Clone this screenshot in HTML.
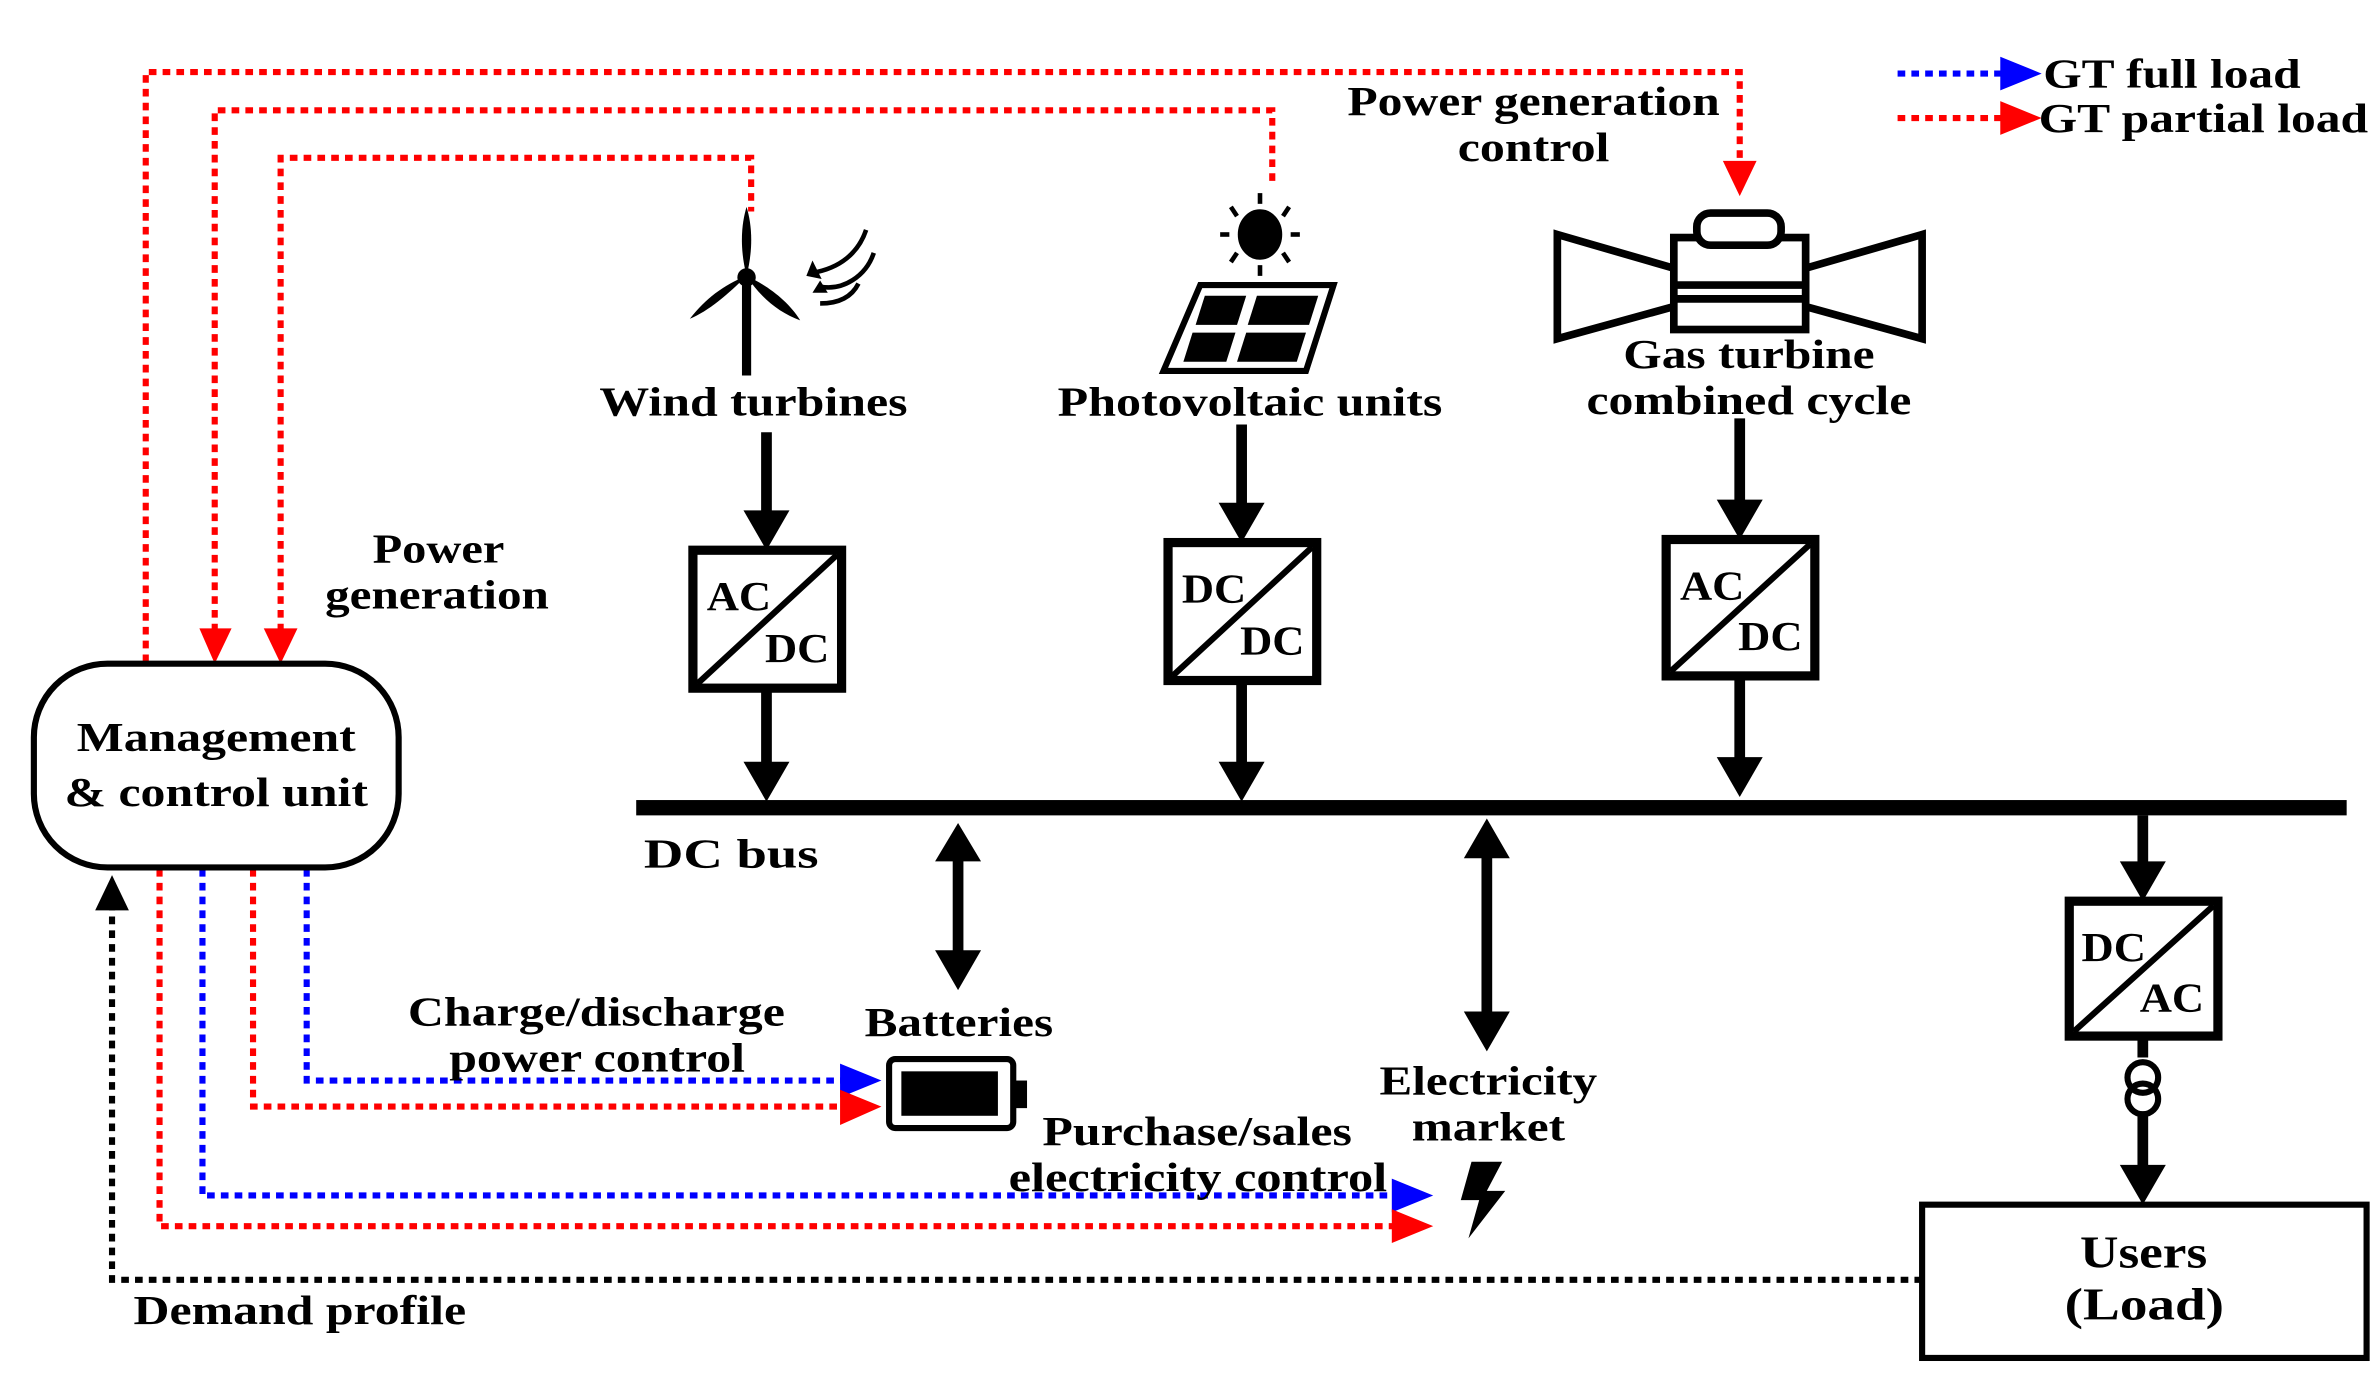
<!DOCTYPE html>
<html><head><meta charset="utf-8"><style>
html,body{margin:0;padding:0;background:#fff}
svg{display:block}
text{font-family:"Liberation Serif","DejaVu Serif",serif;font-weight:bold;font-size:27px;fill:#000}
</style></head><body>
<svg width="2379" height="1384" viewBox="0 0 1552 903" xmlns="http://www.w3.org/2000/svg" font-family="Liberation Serif, DejaVu Serif, serif">
<g fill="none" stroke-dasharray="5,4" stroke-width="4">
<path d="M95,432 V47 H1135 V108" stroke="#f00"/>
<path d="M140,412 V72 H830 V122" stroke="#f00"/>
<path d="M183,412 V103 H490 V138" stroke="#f00"/>
<path d="M200,567 V705 H550" stroke="#00f"/>
<path d="M165,567 V722 H550" stroke="#f00"/>
<path d="M132,567 V780 H910" stroke="#00f"/>
<path d="M104,567 V800 H910" stroke="#f00"/>
<path d="M1254,835 H73 V592" stroke="#000"/>
<path d="M1238,48 H1308" stroke="#00f"/>
<path d="M1238,77 H1308" stroke="#f00"/>
</g>
<g>
<path d="M1124,105 L1146,105 L1135,128z" fill="#f00"/>
<path d="M130,410 L151,410 L140,433z" fill="#f00"/>
<path d="M172,410 L194,410 L183,433z" fill="#f00"/>
<path d="M548,694 L575,705 L548,716z" fill="#00f"/>
<path d="M548,711 L575,722 L548,734z" fill="#f00"/>
<path d="M908,769 L935,780 L908,791z" fill="#00f"/>
<path d="M908,789 L935,800 L908,811z" fill="#f00"/>
<path d="M62,594 L84,594 L73,571z" fill="#000"/>
<path d="M1305,37 L1332,48 L1305,59z" fill="#00f"/>
<path d="M1305,66 L1332,77 L1305,88z" fill="#f00"/>
</g>
<rect x="22" y="433" width="238" height="133" rx="48" fill="#fff" stroke="#000" stroke-width="4"/>
<text x="50" y="490" textLength="182" lengthAdjust="spacingAndGlyphs">Management</text>
<text x="42" y="526" textLength="198" lengthAdjust="spacingAndGlyphs">&amp; control unit</text>
<rect x="415" y="522" width="1116" height="10" fill="#000"/>
<text x="420" y="566" textLength="114" lengthAdjust="spacingAndGlyphs">DC bus</text>
<g stroke="#000" stroke-width="7" fill="none">
<path d="M500,282 V335"/><path d="M500,449 V500"/>
<path d="M810,277 V330"/><path d="M810,444 V500"/>
<path d="M1135,273 V328"/><path d="M1135,441 V496"/>
<path d="M625,560 V622"/>
<path d="M970,558 V664"/>
<path d="M1398,532 V565"/>
<path d="M1398,676 V690"/><path d="M1398,727 V762"/>
</g>
<g fill="#000">
<path d="M485,333 L515,333 L500,359z"/><path d="M485,497 L515,497 L500,523z"/>
<path d="M795,328 L825,328 L810,354z"/><path d="M795,497 L825,497 L810,523z"/>
<path d="M1120,326 L1150,326 L1135,352z"/><path d="M1120,494 L1150,494 L1135,520z"/>
<path d="M610,562 L640,562 L625,537z"/><path d="M610,620 L640,620 L625,646z"/>
<path d="M955,560 L985,560 L970,534z"/><path d="M955,660 L985,660 L970,686z"/>
<path d="M1383,562 L1413,562 L1398,588z"/>
<path d="M1383,760 L1413,760 L1398,786z"/>
</g>
<g fill="#fff" stroke="#000" stroke-width="6">
<rect x="452" y="359" width="97" height="90"/>
<rect x="762" y="354" width="97" height="90"/>
<rect x="1087" y="352" width="97" height="89"/>
<rect x="1350" y="588" width="97" height="88"/>
</g>
<g stroke="#000" stroke-width="4">
<line x1="455" y1="446" x2="546" y2="362"/>
<line x1="765" y1="441" x2="856" y2="357"/>
<line x1="1090" y1="438" x2="1181" y2="355"/>
<line x1="1353" y1="673" x2="1444" y2="591"/>
</g>
<g style="font-size:25px">
<text x="461" y="398" textLength="42" lengthAdjust="spacingAndGlyphs">AC</text><text x="499" y="432" textLength="42" lengthAdjust="spacingAndGlyphs">DC</text>
<text x="771" y="393" textLength="42" lengthAdjust="spacingAndGlyphs">DC</text><text x="809" y="427" textLength="42" lengthAdjust="spacingAndGlyphs">DC</text>
<text x="1096" y="391" textLength="42" lengthAdjust="spacingAndGlyphs">AC</text><text x="1134" y="424" textLength="42" lengthAdjust="spacingAndGlyphs">DC</text>
<text x="1358" y="627" textLength="42" lengthAdjust="spacingAndGlyphs">DC</text><text x="1396" y="660" textLength="42" lengthAdjust="spacingAndGlyphs">AC</text>
</g>
<circle cx="1398" cy="703" r="10" fill="none" stroke="#000" stroke-width="4"/>
<circle cx="1398" cy="717" r="10" fill="none" stroke="#000" stroke-width="4"/>
<rect x="1254" y="786" width="290" height="100" fill="#fff" stroke="#000" stroke-width="4"/>
<text x="1357" y="827" style="font-size:30px" textLength="83" lengthAdjust="spacingAndGlyphs">Users</text>
<text x="1347" y="861" style="font-size:30px" textLength="104" lengthAdjust="spacingAndGlyphs">(Load)</text>
<rect x="580" y="691" width="81" height="45" rx="4" fill="#fff" stroke="#000" stroke-width="4"/>
<rect x="588" y="699" width="63" height="29" fill="#000"/>
<rect x="661" y="705" width="9" height="18" fill="#000"/>
<text x="564" y="676" textLength="123" lengthAdjust="spacingAndGlyphs">Batteries</text>
<path d="M960,758 L980,758 L970,777 L982,777 L958,808 L965,783 L953,783z" fill="#000"/>
<g fill="#000">
<rect x="484" y="182" width="6" height="63"/>
<path d="M487,180 C482,160 484,145 487,135 C490,145 492,160 487,180z"/>
<path d="M487,180 C475,192 462,203 450,208 C460,195 472,186 487,180z"/>
<path d="M487,180 C500,186 514,196 522,209 C508,204 496,194 487,180z"/>
<circle cx="487" cy="181" r="6"/>
</g>
<g fill="none" stroke="#000" stroke-width="3">
<path d="M565,150 C560,165 548,175 530,178"/>
<path d="M570,165 C565,180 550,190 535,187"/>
<path d="M560,185 C555,195 545,198 535,198"/>
</g>
<g fill="#000"><path d="M530,170 L526,180 L536,182z"/><path d="M535,183 L530,191 L540,191z"/></g>
<g fill="#000" stroke="#000" stroke-width="3">
<ellipse cx="822" cy="153" rx="13" ry="15"/>
<line x1="822" y1="126" x2="822" y2="133"/><line x1="822" y1="173" x2="822" y2="180"/>
<line x1="796" y1="153" x2="802" y2="153"/><line x1="842" y1="153" x2="848" y2="153"/>
<line x1="803" y1="135" x2="807" y2="141"/><line x1="841" y1="135" x2="837" y2="141"/>
<line x1="803" y1="171" x2="807" y2="165"/><line x1="841" y1="171" x2="837" y2="165"/>
</g>
<path d="M783,186 L870,186 L852,242 L759,242z" fill="#fff" stroke="#000" stroke-width="4"/>
<g fill="#000">
<path d="M786,193 L813,193 L807,212 L780,212z"/><path d="M820,193 L860,193 L854,212 L814,212z"/>
<path d="M778,217 L806,217 L800,236 L772,236z"/><path d="M813,217 L852,217 L846,236 L807,236z"/>
</g>
<g fill="#fff" stroke="#000" stroke-width="5">
<path d="M1016,153 L1092,175 L1092,200 L1016,221z"/>
<path d="M1254,153 L1178,175 L1178,200 L1254,221z"/>
<rect x="1092" y="155" width="86" height="60"/>
<rect x="1107" y="139" width="55" height="21" rx="9"/>
<line x1="1092" y1="186" x2="1178" y2="186"/>
<line x1="1092" y1="195" x2="1178" y2="195"/>
</g>
<g lengthAdjust="spacingAndGlyphs">
<text x="391" y="271" textLength="201" lengthAdjust="spacingAndGlyphs">Wind turbines</text>
<text x="690" y="271" textLength="251" lengthAdjust="spacingAndGlyphs">Photovoltaic units</text>
<text x="1059" y="240" textLength="164" lengthAdjust="spacingAndGlyphs">Gas turbine</text>
<text x="1035" y="270" textLength="212" lengthAdjust="spacingAndGlyphs">combined cycle</text>
<text x="879" y="75" textLength="243" lengthAdjust="spacingAndGlyphs">Power generation</text>
<text x="951" y="105" textLength="99" lengthAdjust="spacingAndGlyphs">control</text>
<text x="243" y="367" textLength="86" lengthAdjust="spacingAndGlyphs">Power</text>
<text x="212" y="397" textLength="146" lengthAdjust="spacingAndGlyphs">generation</text>
<text x="266" y="669" textLength="246" lengthAdjust="spacingAndGlyphs">Charge/discharge</text>
<text x="293" y="699" textLength="193" lengthAdjust="spacingAndGlyphs">power control</text>
<text x="680" y="747" textLength="202" lengthAdjust="spacingAndGlyphs">Purchase/sales</text>
<text x="658" y="777" textLength="247" lengthAdjust="spacingAndGlyphs">electricity control</text>
<text x="900" y="714" textLength="142" lengthAdjust="spacingAndGlyphs">Electricity</text>
<text x="921" y="744" textLength="100" lengthAdjust="spacingAndGlyphs">market</text>
<text x="87" y="864" textLength="217" lengthAdjust="spacingAndGlyphs">Demand profile</text>
<text x="1333" y="57" textLength="168" lengthAdjust="spacingAndGlyphs">GT full load</text>
<text x="1330" y="86" textLength="215" lengthAdjust="spacingAndGlyphs">GT partial load</text>
</g>
</svg>
</body></html>
